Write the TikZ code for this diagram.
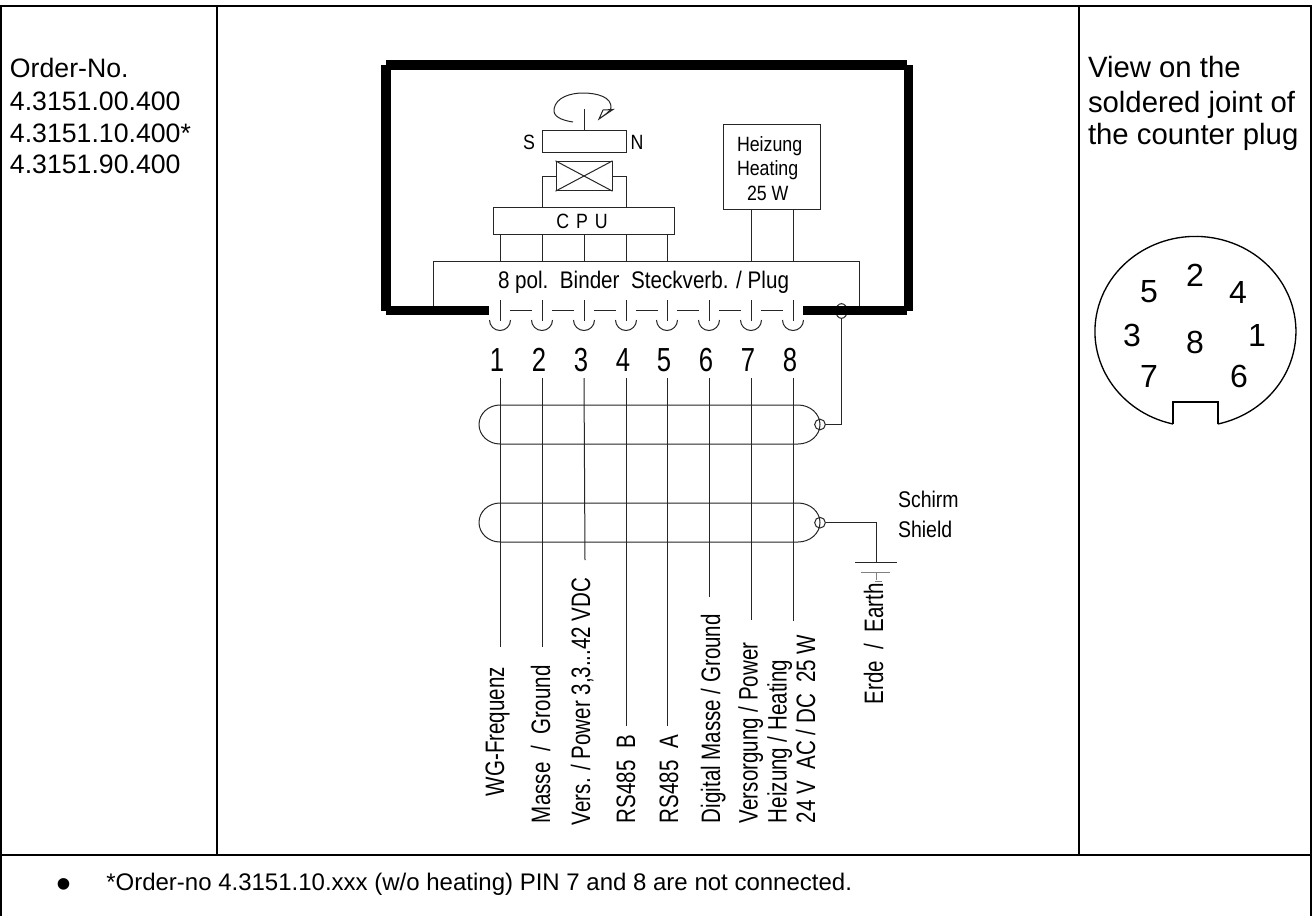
\documentclass[tikz,border=0pt]{standalone}
\usepackage{fontspec}
\usetikzlibrary{shapes.geometric}
\setmainfont{Liberation Sans}
\newfontfamily\nar[FakeStretch=0.86]{Liberation Sans}
\newfontfamily\narr[FakeStretch=0.77]{Liberation Sans}
\tikzset{x=0.75pt,y=-0.75pt,
 thin line/.style={line width=0.75pt,black!85},
 frame/.style={line width=1.5pt,black},
 bar/.style={line width=7.4pt,black,line cap=butt},
 box/.style={draw,line width=0.75pt,black!85,inner sep=0pt},
 ltxt/.style={inner sep=0pt,outer sep=0pt,anchor=base west,font=\fontsize{20}{24}\selectfont},
 rtxt/.style={inner sep=0pt,outer sep=0pt,anchor=base west,font=\fontsize{22}{26}\selectfont},
 ntxt/.style={inner sep=0pt,outer sep=0pt,text=black,font=\nar\fontsize{15.5}{18}\selectfont},
 pinnum/.style={inner sep=0pt,outer sep=0pt,text=black,anchor=base,font=\narr\fontsize{25}{25}\selectfont},
 conn/.style={inner sep=0pt,outer sep=0pt,anchor=center,font=\fontsize{24}{24}\selectfont},
 rot/.style={inner sep=0pt,outer sep=0pt,rotate=90,anchor=base west,text=black,font=\narr\fontsize{20}{22}\selectfont},
 small circle/.style={circle,draw,line width=0.75pt,black!85,inner sep=0pt,minimum size=8pt}}
\begin{document}
\begin{tikzpicture}
\useasboundingbox (0,0) rectangle (1315,915);
\fill[white] (0,0) rectangle (1315,915);
% table
\draw[frame] (1,920) -- (1,6) -- (1311,6) -- (1311,920);
\draw[frame] (1,855) -- (1311,855);
\draw[frame] (217,6) -- (217,855);
\draw[frame] (1079,6) -- (1079,855);
% left/right text
\node[ltxt] (o1) at (10,77) {Order-No.};
\node[ltxt] (o2) at (10,110) {4.3151.00.400};
\node[ltxt] (o3) at (10,142) {4.3151.10.400*};
\node[ltxt] (o4) at (10,173) {4.3151.90.400};
\node[rtxt] (v1) at (1088,77) {View on the};
\node[rtxt] (v2) at (1088,112) {soldered joint of};
\node[rtxt] (v3) at (1088,144) {the counter plug};
\node[inner sep=0pt,anchor=base,font=\fontsize{32}{32}\selectfont] (bul) at (64,898) {•};
\node[inner sep=0pt,anchor=base west,font=\fontsize{18}{22}\selectfont] (foot) at (106,890) {*Order-no 4.3151.10.xxx (w/o heating) PIN 7 and 8 are not connected.};
% shield circle under the bar
\node[ellipse,draw,line width=0.75pt,black!85,inner sep=0pt,minimum width=8.5pt,minimum height=11pt] (sc) at (841.5,311) {};
% thick frame
\draw[bar] (386,65) -- (386,311);
\draw[bar] (386,65) -- (907,65);
\draw[bar] (908.5,65) -- (908.5,311);
\draw[bar] (386,310.5) -- (489,310.5);
\draw[bar] (803,310.5) -- (907,310.5);
% rotation mark
\draw[thin line] (584,109) -- (584,130);
\draw[thin line] (573,122) .. controls (560,120) and (553,116) .. (554,109) .. controls (556,97) and (571,93) .. (583,93) .. controls (597,93) and (612,97) .. (611,108) .. controls (610,112) and (604,115) .. (599,119) -- (603,110) -- (613,109.5) -- (599,119);
% magnet etc.
\node[box,minimum width=63pt,minimum height=17pt] (mag) at (584,141.5) {};
\node[ntxt] (s) at (529,142) {S};
\node[ntxt] (n) at (637,142) {N};
\node[box,minimum width=42pt,minimum height=22pt] (coil) at (584,176) {};
\draw[thin line] (coil.south west) -- (coil.north east);
\draw[thin line] (coil.north west) -- (coil.south east);
\node[box,minimum width=135.75pt,minimum height=20.25pt] (cpu) at (583.5,220.5) {};
\node[ntxt] (cput) at (582,221) {C\,\,P\,\,U};
\draw[thin line] (coil.west) -- (542,176) -- (542,207);
\draw[thin line] (coil.east) -- (626,176) -- (626,207);
% heater
\node[box,minimum width=72.75pt,minimum height=63.75pt] (heat) at (771.5,166.5) {};
\node[ntxt,anchor=base west] (h1) at (737,151) {Heizung};
\node[ntxt,anchor=base west] (h2) at (737,175.5) {Heating};
\node[ntxt,anchor=base west] (h3) at (747,200) {25 W};
% plug
\draw[thin line] (433,306) -- (433,261) -- (859,261) -- (859,306);
\node[ntxt,anchor=base west,font=\nar\fontsize{18}{22}\selectfont] (plug) at (498,288) {8 pol.\ \ Binder\ \ Steckverb. / Plug};
\foreach \x in {500,542,584,626,667} \draw[thin line] (\x,234) -- (\x,261);
\foreach \x in {751,793} \draw[thin line] (\x,209) -- (\x,261);
% pins
\foreach \x/\n in {500/1,542/2,584/3,626/4,667/5,709/6,751/7,793/8}{
 \draw[thin line] (\x,300) -- (\x,321);
 \draw[thin line] (\x-10.5,320) arc[start angle=180,end angle=0,radius=10.5];
 \node[pinnum] (p\n) at (\x-3,371) {\n};
}
\foreach \x in {510,552,594,636,677,719,761} \draw[thin line] (\x,310) -- ++(22,0);
% cables
\draw[thin line] (500,405) arc[start angle=270,end angle=90,x radius=21,y radius=19.5] -- (798,444) arc[start angle=90,end angle=-90,x radius=22,y radius=19.5] -- cycle;
\draw[thin line] (500,503) arc[start angle=270,end angle=90,x radius=21,y radius=19.5] -- (798,542) arc[start angle=90,end angle=-90,x radius=22,y radius=19.5] -- cycle;
\node[small circle] (c1) at (820,424.5) {};
\node[small circle] (c2) at (820,522.7) {};
\draw[thin line] (c1.east) -| (sc.south);
% earth
\coordinate (e0) at (876,562);
\draw[thin line] (c2.east) -| (e0);
\draw[thin line] (855,562) -- (897,562);
\draw[line width=0.75pt,black!50] (861,572) -- (890,572);
\draw[line width=0.6pt,black!50] (876,572) -- (876,580);
\draw[line width=0.6pt,black!50] (875,581) -- (882,581);
\node[ntxt,anchor=base west,font=\nar\fontsize{17}{20}\selectfont] (sch) at (898,507) {Schirm};
\node[ntxt,anchor=base west,font=\nar\fontsize{17}{20}\selectfont] (shi) at (898,537) {Shield};
% wires
\draw[thin line] (500,378) -- (500,647);
\draw[thin line] (542,378) -- (542,647);
\draw[thin line] (584,378) -- (585,560);
\draw[thin line] (626,378) -- (626,726);
\draw[thin line] (667,378) -- (667,726);
\draw[thin line] (709,378) -- (709,597);
\draw[thin line] (751,378) -- (751,620);
\draw[thin line] (793,378) -- (793,621);
% labels
\node[rot] (l1) at (504,796) {WG-Frequenz};
\node[rot] (l2) at (550,823) {Masse\ \ /\ \ Ground};
\node[rot] (l3) at (590,825) {Vers. / Power 3,3...42 VDC};
\node[rot] (l4) at (635,823) {RS485\ \ B};
\node[rot] (l5) at (678,823) {RS485\ \ A};
\node[rot] (l6) at (720,823) {Digital Masse / Ground};
\node[rot] (l7) at (757.5,823) {Versorgung / Power};
\node[rot] (l8) at (786.5,823) {Heizung / Heating};
\node[rot] (l9) at (815,823) {24 V\ \ AC / DC\ \ 25 W};
\node[rot] (l10) at (883,704) {Erde\ \ /\ \ Earth};
% connector view
\draw[line width=1pt,black] (1173,424) -- (1173,402) -- (1218,402) -- (1218,424);
\draw[line width=1pt,black] (1173,424) arc[start angle=102.9,end angle=437.1,x radius=100.5,y radius=95];
\node[conn] (k2) at (1195,275) {2};
\node[conn] (k5) at (1149,292) {5};
\node[conn] (k4) at (1238,292) {4};
\node[conn] (k3) at (1132,335) {3};
\node[conn] (k1) at (1257,335) {1};
\node[conn] (k8) at (1195,342) {8};
\node[conn] (k7) at (1149,376) {7};
\node[conn] (k6) at (1239,376) {6};
\end{tikzpicture}
\end{document}
